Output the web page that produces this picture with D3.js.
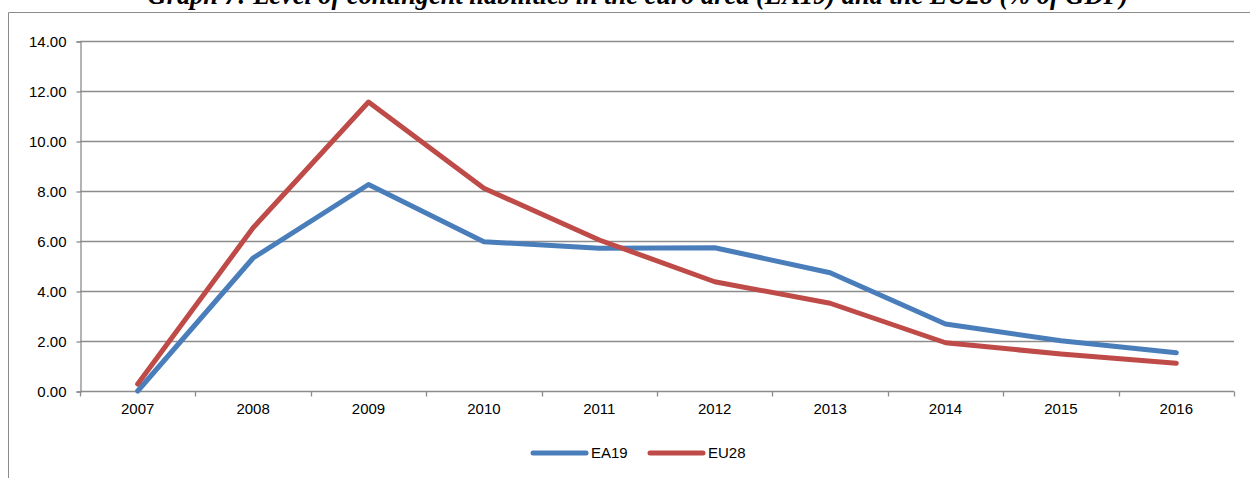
<!DOCTYPE html>
<html>
<head>
<meta charset="utf-8">
<script src="https://cdn.jsdelivr.net/npm/d3@7"></script>
<style>
html,body{margin:0;padding:0;background:#fff;}
svg{display:block;}
</style>
</head>
<body>
<svg id="chart" width="1250" height="478"></svg>
<script>
const years = ["2007","2008","2009","2010","2011","2012","2013","2014","2015","2016"];
const ea19 = [0.00, 5.32, 8.26, 5.97, 5.71, 5.73, 4.73, 2.68, 2.01, 1.53];
const eu28 = [0.28, 6.53, 11.56, 8.11, 6.04, 4.37, 3.51, 1.93, 1.48, 1.11];
const yTicks = [0, 2, 4, 6, 8, 10, 12, 14];
const seriesNames = ["EA19", "EU28"];
const seriesColors = ["#4a7ebb", "#be4b48"];
const titleText = "Graph 7: Level of contingent liabilities in the euro area (EA19) and the EU28 (% of GDP)";

(function () {
const svg = d3.select("#chart");
const pLeft = 80, pRight = 1234, pTop = 41, pBottom = 391;

// outer frame
svg.append("path").attr("d", "M8.5,478 L8.5,12.5 L1250,12.5")
  .attr("fill", "none").attr("stroke", "#8c8c8c").attr("stroke-width", 1);

// title (partly clipped at top, as in the source)
svg.append("text").attr("x", 638).attr("y", 4)
  .attr("text-anchor", "middle")
  .attr("font-family", "Liberation Serif, Times New Roman, serif")
  .attr("font-weight", "bold").attr("font-style", "italic")
  .attr("font-size", 26.4).attr("fill", "#000").text(titleText);

const x = d3.scaleBand().domain(years).range([pLeft, pRight]).padding(0);
const y = d3.scaleLinear().domain([0, 14]).range([pBottom, pTop]);

// gridlines
svg.append("g").selectAll("line").data(yTicks.filter(d => d > 0)).join("line")
  .attr("x1", pLeft).attr("x2", pRight)
  .attr("y1", d => Math.round(y(d)) + 0.5).attr("y2", d => Math.round(y(d)) + 0.5)
  .attr("stroke", "#8c8c8c").attr("stroke-width", 1.3);

// y axis
const yAxis = d3.axisLeft(y).tickValues(yTicks).tickFormat(d3.format(".2f")).tickSize(4).tickPadding(10);
const gy = svg.append("g").attr("transform", `translate(${pLeft + 0.5},0.5)`).call(yAxis);
gy.select(".domain").attr("stroke", "#8c8c8c").attr("stroke-width", 1.3);
gy.selectAll(".tick line").attr("stroke", "#8c8c8c").attr("stroke-width", 1.3);
gy.selectAll("text").attr("font-family", "Liberation Sans, Arial, sans-serif")
  .attr("font-size", 15).attr("fill", "#000");

// x axis
const xAxis = d3.axisBottom(x).tickSize(0).tickPadding(12);
const gx = svg.append("g").attr("transform", `translate(0,${pBottom + 0.5})`).call(xAxis);
gx.select(".domain").attr("d", `M${pLeft},0H${pRight}`).attr("stroke", "#8c8c8c").attr("stroke-width", 1.3);
gx.selectAll("text").attr("font-family", "Liberation Sans, Arial, sans-serif")
  .attr("font-size", 15).attr("fill", "#000");
// band boundary ticks
const bounds = years.map(d => x(d)).concat([x(years[years.length - 1]) + x.bandwidth()]);
gx.append("g").selectAll("line").data(bounds).join("line")
  .attr("x1", d => Math.round(d) + 0.5).attr("x2", d => Math.round(d) + 0.5)
  .attr("y1", 0).attr("y2", 5)
  .attr("stroke", "#8c8c8c").attr("stroke-width", 1.3);

// lines
const line = d3.line()
  .x((d, i) => x(years[i]) + x.bandwidth() / 2)
  .y(d => y(d));
[ea19, eu28].forEach((s, k) => {
  svg.append("path").datum(s).attr("d", line)
    .attr("fill", "none").attr("stroke", seriesColors[k])
    .attr("stroke-width", 5).attr("stroke-linejoin", "round").attr("stroke-linecap", "round");
});

// legend
const legX = [533, 650];
seriesNames.forEach((n, k) => {
  const g = svg.append("g").attr("transform", `translate(${legX[k]},453)`);
  g.append("line").attr("x1", 0).attr("x2", 53).attr("y1", 0).attr("y2", 0)
    .attr("stroke", seriesColors[k]).attr("stroke-width", 5).attr("stroke-linecap", "round");
  g.append("text").attr("x", 58).attr("y", 0).attr("dy", "0.35em")
    .attr("font-family", "Liberation Sans, Arial, sans-serif")
    .attr("font-size", 15).attr("fill", "#000").text(n);
});
})();
</script>
</body>
</html>
